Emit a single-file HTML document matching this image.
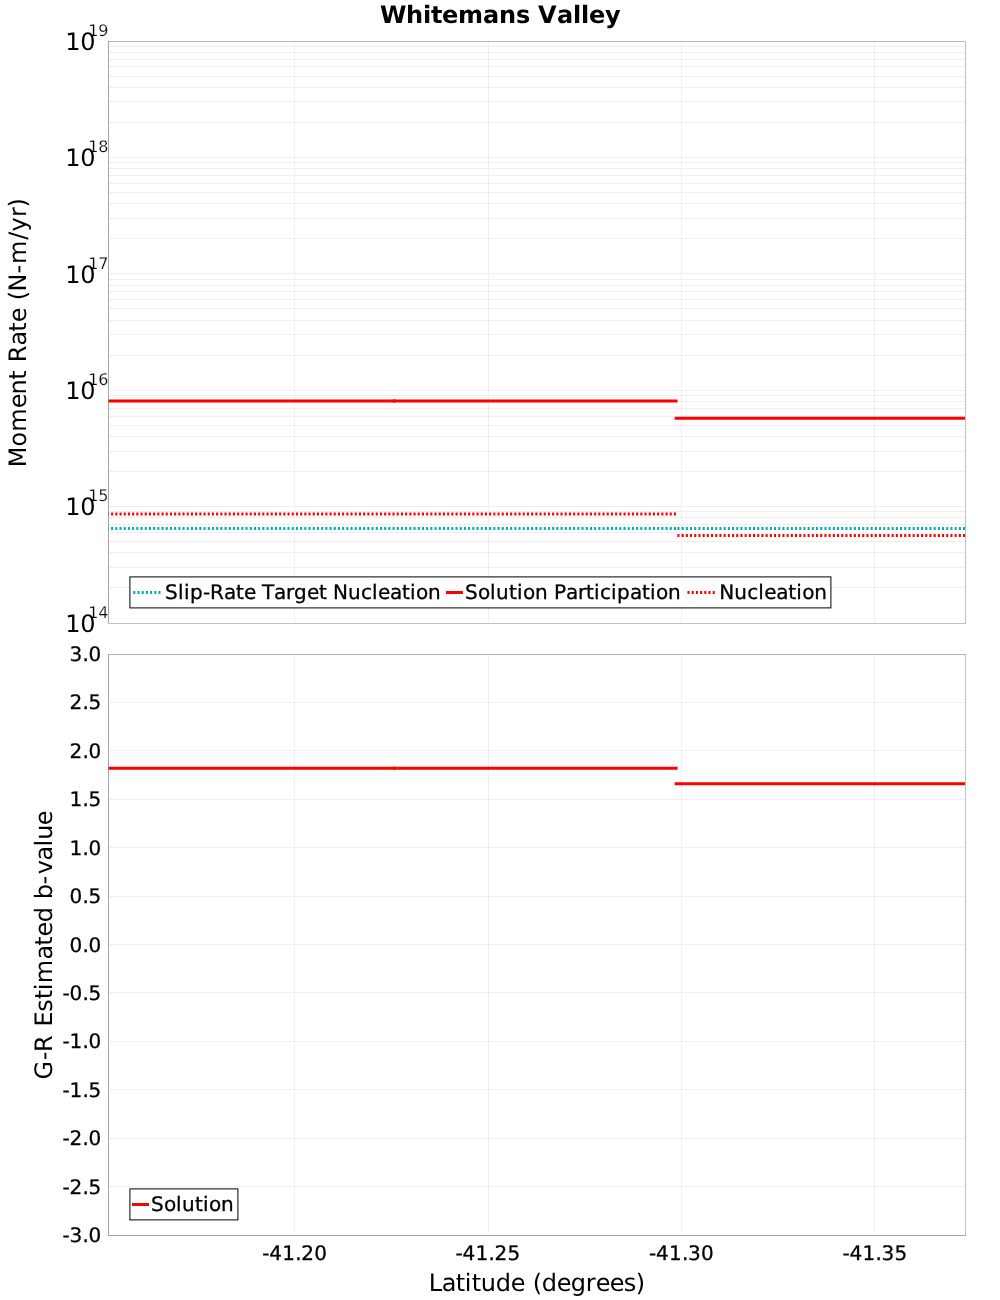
<!DOCTYPE html>
<html lang="en"><head><meta charset="utf-8"><title>Whitemans Valley</title>
<style>html,body{margin:0;padding:0;background:#fff;}body{width:1000px;height:1300px;overflow:hidden;}svg{display:block;}text{font-family:"DejaVu Sans", "Liberation Sans", sans-serif;fill:#000;text-rendering:geometricPrecision;}.s{stroke:#000;stroke-width:0.3px;}.t{stroke:#fff;stroke-width:0.22px;}</style>
</head><body>
<svg width="1000" height="1300" viewBox="0 0 1000 1300">
<rect x="0" y="0" width="1000" height="1300" fill="#ffffff"/>
<defs><clipPath id="c1"><rect x="108.5" y="41.5" width="856.5" height="582.0"/></clipPath><clipPath id="c2"><rect x="108.5" y="654.5" width="856.5" height="581.0"/></clipPath></defs>
<text x="380 406 423 431 442 458 483 499 516 530 538 557 573 581 589 605" y="23" font-size="24" font-weight="bold">Whitemans Valley</text>
<g stroke="#efefef" stroke-width="1" fill="none" shape-rendering="crispEdges">
<line x1="109" y1="587.5" x2="965" y2="587.5"/>
<line x1="109" y1="567.5" x2="965" y2="567.5"/>
<line x1="109" y1="552.5" x2="965" y2="552.5"/>
<line x1="109" y1="541.5" x2="965" y2="541.5"/>
<line x1="109" y1="532.5" x2="965" y2="532.5"/>
<line x1="109" y1="524.5" x2="965" y2="524.5"/>
<line x1="109" y1="517.5" x2="965" y2="517.5"/>
<line x1="109" y1="511.5" x2="965" y2="511.5"/>
<line x1="109" y1="506.5" x2="965" y2="506.5"/>
<line x1="109" y1="471.5" x2="965" y2="471.5"/>
<line x1="109" y1="451.5" x2="965" y2="451.5"/>
<line x1="109" y1="436.5" x2="965" y2="436.5"/>
<line x1="109" y1="425.5" x2="965" y2="425.5"/>
<line x1="109" y1="416.5" x2="965" y2="416.5"/>
<line x1="109" y1="408.5" x2="965" y2="408.5"/>
<line x1="109" y1="401.5" x2="965" y2="401.5"/>
<line x1="109" y1="395.5" x2="965" y2="395.5"/>
<line x1="109" y1="390.5" x2="965" y2="390.5"/>
<line x1="109" y1="355.5" x2="965" y2="355.5"/>
<line x1="109" y1="334.5" x2="965" y2="334.5"/>
<line x1="109" y1="320.5" x2="965" y2="320.5"/>
<line x1="109" y1="308.5" x2="965" y2="308.5"/>
<line x1="109" y1="299.5" x2="965" y2="299.5"/>
<line x1="109" y1="291.5" x2="965" y2="291.5"/>
<line x1="109" y1="285.5" x2="965" y2="285.5"/>
<line x1="109" y1="279.5" x2="965" y2="279.5"/>
<line x1="109" y1="273.5" x2="965" y2="273.5"/>
<line x1="109" y1="238.5" x2="965" y2="238.5"/>
<line x1="109" y1="218.5" x2="965" y2="218.5"/>
<line x1="109" y1="203.5" x2="965" y2="203.5"/>
<line x1="109" y1="192.5" x2="965" y2="192.5"/>
<line x1="109" y1="183.5" x2="965" y2="183.5"/>
<line x1="109" y1="175.5" x2="965" y2="175.5"/>
<line x1="109" y1="168.5" x2="965" y2="168.5"/>
<line x1="109" y1="162.5" x2="965" y2="162.5"/>
<line x1="109" y1="157.5" x2="965" y2="157.5"/>
<line x1="109" y1="122.5" x2="965" y2="122.5"/>
<line x1="109" y1="101.5" x2="965" y2="101.5"/>
<line x1="109" y1="87.5" x2="965" y2="87.5"/>
<line x1="109" y1="76.5" x2="965" y2="76.5"/>
<line x1="109" y1="66.5" x2="965" y2="66.5"/>
<line x1="109" y1="59.5" x2="965" y2="59.5"/>
<line x1="109" y1="52.5" x2="965" y2="52.5"/>
<line x1="109" y1="46.5" x2="965" y2="46.5"/>
<line x1="109" y1="702.5" x2="965" y2="702.5"/>
<line x1="109" y1="750.5" x2="965" y2="750.5"/>
<line x1="109" y1="799.5" x2="965" y2="799.5"/>
<line x1="109" y1="847.5" x2="965" y2="847.5"/>
<line x1="109" y1="896.5" x2="965" y2="896.5"/>
<line x1="109" y1="944.5" x2="965" y2="944.5"/>
<line x1="109" y1="992.5" x2="965" y2="992.5"/>
<line x1="109" y1="1041.5" x2="965" y2="1041.5"/>
<line x1="109" y1="1089.5" x2="965" y2="1089.5"/>
<line x1="109" y1="1138.5" x2="965" y2="1138.5"/>
<line x1="109" y1="1186.5" x2="965" y2="1186.5"/>
<line x1="294.5" y1="42" x2="294.5" y2="622"/>
<line x1="294.5" y1="655" x2="294.5" y2="1234"/>
<line x1="488.5" y1="42" x2="488.5" y2="622"/>
<line x1="488.5" y1="655" x2="488.5" y2="1234"/>
<line x1="681.5" y1="42" x2="681.5" y2="622"/>
<line x1="681.5" y1="655" x2="681.5" y2="1234"/>
<line x1="874.5" y1="42" x2="874.5" y2="622"/>
<line x1="874.5" y1="655" x2="874.5" y2="1234"/>
</g>
<g stroke-width="1" fill="none" shape-rendering="crispEdges">
<line x1="109" y1="41.5" x2="966" y2="41.5" stroke="#b5b5b5"/>
<line x1="965.5" y1="42" x2="965.5" y2="623" stroke="#c0c0c0"/>
<line x1="108" y1="623.5" x2="966" y2="623.5" stroke="#c0c0c0"/>
<line x1="108.5" y1="41" x2="108.5" y2="623" stroke="#a5a5a5"/>
<line x1="109" y1="654.5" x2="966" y2="654.5" stroke="#b5b5b5"/>
<line x1="965.5" y1="655" x2="965.5" y2="1235" stroke="#c0c0c0"/>
<line x1="108" y1="1235.5" x2="966" y2="1235.5" stroke="#a2a2a2"/>
<line x1="108.5" y1="654" x2="108.5" y2="1235" stroke="#a5a5a5"/>
</g>
<g clip-path="url(#c1)" fill="none" stroke-width="3">
<g stroke="#ff0000" stroke-linecap="square">
<line x1="106.9" y1="400.9" x2="394.4" y2="400.9"/>
<line x1="394.4" y1="400.9" x2="676.1" y2="400.9"/>
<line x1="676.1" y1="418.3" x2="968" y2="418.3"/>
</g>
<g stroke-dasharray="2.1 2.1">
<line x1="106.9" y1="528.4" x2="676.1" y2="528.4" stroke="#00b2b2"/>
<line x1="677.4" y1="528.4" x2="968" y2="528.4" stroke="#00b2b2"/>
<line x1="106.9" y1="514.05" x2="676.1" y2="514.05" stroke="#ff0000"/>
<line x1="677.4" y1="535.4" x2="968" y2="535.4" stroke="#ff0000"/>
</g></g>
<g clip-path="url(#c2)" fill="none" stroke-width="3" stroke="#ff0000" stroke-linecap="square">
<line x1="106.9" y1="768.3" x2="394.4" y2="768.3"/>
<line x1="394.4" y1="768.3" x2="676.1" y2="768.3"/>
<line x1="676.1" y1="783.75" x2="968" y2="783.75"/>
</g>
<text x="88.2 98.2" y="36" font-size="16" class="t">19</text>
<text x="65.3 80.3" y="50" font-size="24">10</text>
<text x="88.2 98.2" y="152" font-size="16" class="t">18</text>
<text x="65.3 80.3" y="166" font-size="24">10</text>
<text x="88.2 98.2" y="269" font-size="16" class="t">17</text>
<text x="65.3 80.3" y="283" font-size="24">10</text>
<text x="88.2 98.2" y="385" font-size="16" class="t">16</text>
<text x="65.3 80.3" y="399" font-size="24">10</text>
<text x="88.2 98.2" y="501" font-size="16" class="t">15</text>
<text x="65.3 80.3" y="515" font-size="24">10</text>
<text x="88.2 98.2" y="618" font-size="16" class="t">14</text>
<text x="65.3 80.3" y="632" font-size="24">10</text>
<text x="69.5 82.5 88.5" y="661" font-size="20" class="s">3.0</text>
<text x="69.5 82.5 88.5" y="709" font-size="20" class="s">2.5</text>
<text x="69.5 82.5 88.5" y="758" font-size="20" class="s">2.0</text>
<text x="69.5 82.5 88.5" y="806" font-size="20" class="s">1.5</text>
<text x="69.5 82.5 88.5" y="855" font-size="20" class="s">1.0</text>
<text x="69.5 82.5 88.5" y="903" font-size="20" class="s">0.5</text>
<text x="69.5 82.5 88.5" y="952" font-size="20" class="s">0.0</text>
<text x="62.5 69.5 82.5 88.5" y="1000" font-size="20" class="s">-0.5</text>
<text x="62.5 69.5 82.5 88.5" y="1048" font-size="20" class="s">-1.0</text>
<text x="62.5 69.5 82.5 88.5" y="1097" font-size="20" class="s">-1.5</text>
<text x="62.5 69.5 82.5 88.5" y="1145" font-size="20" class="s">-2.0</text>
<text x="62.5 69.5 82.5 88.5" y="1194" font-size="20" class="s">-2.5</text>
<text x="62.5 69.5 82.5 88.5" y="1242" font-size="20" class="s">-3.0</text>
<text x="262.2 269.2 282.2 295.2 301.2 314.2" y="1260" font-size="20" class="s">-41.20</text>
<text x="455.6 462.6 475.6 488.6 494.6 507.6" y="1260" font-size="20" class="s">-41.25</text>
<text x="649 656 669 682 688 701" y="1260" font-size="20" class="s">-41.30</text>
<text x="842.4 849.4 862.4 875.4 881.4 894.4" y="1260" font-size="20" class="s">-41.35</text>
<text x="428.8 441.8 455.8 464.8 471.8 480.8 495.8 510.8 524.8 532.8 541.8 556.8 570.8 585.8 595.8 609.8 623.8 635.8" y="1291" font-size="24">Latitude (degrees)</text>
<text x="-134.12 -113.32 -98.63 -75.25 -61.39 -46.78 -37.07 -29.14 -12.46 1.34 10.75 25.42 32.95 41.71 59.67 69.23 93.4 101.49 116.19 125.56" y="0" font-size="24" transform="translate(26,333.1) rotate(-90)">Moment Rate (N-m/yr)</text>
<text x="-134.64 -115.44 -107.08 -89.81 -81.58 -67.01 -54.51 -45.5 -38.43 -14.75 -1.05 8.36 22.63 37.86 45.49 60.23 70.59 84.19 98.3 104.96 119.68" y="0" font-size="24" transform="translate(52,944.8) rotate(-90)">G-R Estimated b-value</text>
<rect x="129.9" y="576.9" width="701" height="31" fill="#ffffff" stroke="#000000" stroke-width="1"/>
<line x1="133.25" y1="592.5" x2="161.25" y2="592.5" stroke="#00b2b2" stroke-width="3" stroke-dasharray="2.1 2.1"/>
<text x="165.1 178.1 184.1 190.1 203.1 210.1 224.1 236.1 244.1 256.1 262.1 274.1 286.1 294.1 307.1 319.1 327.1 333.1 348.1 361.1 372.1 378.1 390.1 402.1 410.1 416.1 428.1" y="599" font-size="20" class="s">Slip-Rate Target Nucleation</text>
<line x1="447.5" y1="592.5" x2="461.5" y2="592.5" stroke="#ff0000" stroke-width="3" stroke-linecap="square"/>
<text x="465 478 490 496 509 517 523 535 548 554 566 578 586 594 600 611 617 630 642 650 656 668" y="599" font-size="20" class="s">Solution Participation</text>
<line x1="687.45" y1="592.5" x2="715.45" y2="592.5" stroke="#ff0000" stroke-width="3" stroke-dasharray="2.1 2.1"/>
<text x="719.2 734.2 747.2 758.2 764.2 776.2 788.2 796.2 802.2 814.2" y="599" font-size="20" class="s">Nucleation</text>
<rect x="129.9" y="1188.9" width="108" height="31" fill="#ffffff" stroke="#000000" stroke-width="1"/>
<line x1="133.5" y1="1204.5" x2="147.5" y2="1204.5" stroke="#ff0000" stroke-width="3" stroke-linecap="square"/>
<text x="151.1 164.1 176.1 182.1 195.1 203.1 209.1 221.1" y="1211" font-size="20" class="s">Solution</text>
</svg></body></html>
